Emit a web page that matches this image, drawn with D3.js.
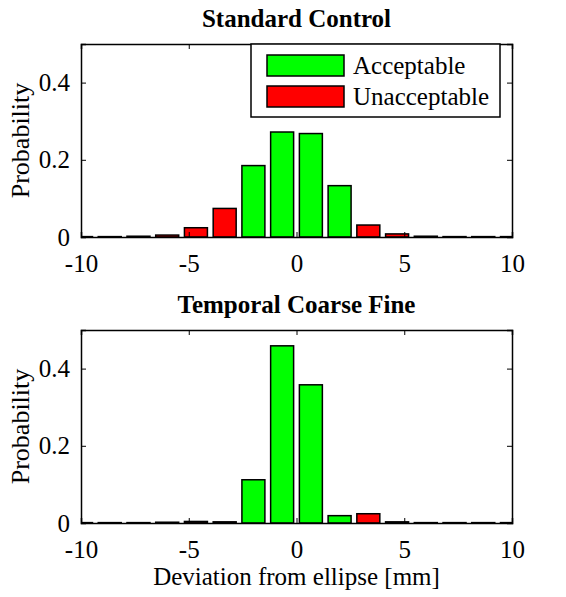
<!DOCTYPE html>
<html>
<head>
	<meta charset="UTF-8">
	<title>deviation histograms</title>
	<style>
html, body {
	margin:0;padding:0;background:#fff;
}
text {
	font-family: "Liberation Serif", "Times New Roman", serif;
	fill: #000;
	font-size: 25px;
}
.title {font-weight: bold;}
.ylabel {font-size: 26px;}
	</style>
	<script src="https://cdnjs.cloudflare.com/ajax/libs/d3/7.8.5/d3.min.js"></script>
</head>
<body>
<script>
// bin centres (mm), 16 bins from -10 to 10
const binCenters = [-10, -8.667, -7.333, -6, -4.667, -3.333, -2, -0.667, 0.667, 2, 3.333, 4.667, 6, 7.333, 8.667, 10];
const acceptable = [false, false, false, false, false, false, true, true, true, true, false, false, false, false, false, false];
const standardControl = [0.001, 0.001, 0.002, 0.005, 0.024, 0.074, 0.185, 0.272, 0.268, 0.133, 0.031, 0.008, 0.002, 0.001, 0.001, 0.001];
const temporalCoarseFine = [0.001, 0.001, 0.001, 0.002, 0.004, 0.003, 0.112, 0.459, 0.358, 0.019, 0.024, 0.003, 0.001, 0.001, 0.001, 0.001];
const xTicks = [-10, -5, 0, 5, 10];
const yTicks = [0, 0.2, 0.4];
const legendLabels = ['Acceptable', 'Unacceptable'];
const colors = ['#00ff00', '#ff0000'];

const W = 566, H = 597;
const svg = d3.select('body').append('svg').attr('width', W).attr('height', H);

const x = d3.scaleLinear().domain([-10, 10]).range([81, 512]);
const binW = 0.8 * 4 / 3;

// plain hyphen minus like matlab, not the unicode minus
const fmtX = d => String(d);
const fmtY = d => d === 0 ? '0' : d3.format('.1f')(d);

function panel(top, title, values, withLegend, withXLabel) {
	const y = d3.scaleLinear().domain([0, 0.5]).range([top + 193, top]);
	const g = svg.append('g');
	const id = 'clip' + top;
	g.append('clipPath').attr('id', id)
		.append('rect').attr('x', x(-10)).attr('y', top - 1).attr('width', x(10) - x(-10)).attr('height', 195);

	g.append('text').attr('class', 'title')
		.attr('x', (x(-10) + x(10)) / 2).attr('y', top - 17)
		.attr('text-anchor', 'middle').text(title);

	g.append('g').attr('clip-path', `url(#${id})`)
		.selectAll('rect').data(values).enter().append('rect')
		.attr('x', (d, i) => x(binCenters[i] - binW / 2))
		.attr('width', (d, i) => x(binCenters[i] + binW / 2) - x(binCenters[i] - binW / 2))
		.attr('y', d => y(d))
		.attr('height', d => y(0) - y(d))
		.attr('fill', (d, i) => acceptable[i] ? colors[0] : colors[1])
		.attr('stroke', '#000').attr('stroke-width', 1.5);

	// axes with ticks on all four sides
	const bottom = g.append('g').attr('transform', `translate(0,${y(0)})`)
		.call(d3.axisBottom(x).tickValues(xTicks).tickSize(-5).tickFormat(fmtX));
	const topAx = g.append('g').attr('transform', `translate(0,${top})`)
		.call(d3.axisTop(x).tickValues(xTicks).tickSize(-5).tickFormat(''));
	const left = g.append('g').attr('transform', `translate(${x(-10)},0)`)
		.call(d3.axisLeft(y).tickValues(yTicks).tickSize(-5).tickFormat(fmtY));
	const right = g.append('g').attr('transform', `translate(${x(10)},0)`)
		.call(d3.axisRight(y).tickValues(yTicks).tickSize(-5).tickFormat(''));
	[bottom, topAx, left, right].forEach(a => {
		a.attr('font-family', null).attr('font-size', null);
		a.select('.domain').attr('stroke', '#000').attr('stroke-width', 1.5);
		a.selectAll('.tick line').attr('stroke', '#000');
	});
	bottom.selectAll('.tick text').attr('y', 35).attr('dy', null);
	left.selectAll('.tick text').attr('x', -11).attr('y', 8).attr('dy', null);

	g.append('text').attr('class', 'ylabel')
		.attr('transform', `translate(29,${(y(0) + top) / 2}) rotate(-90)`)
		.attr('text-anchor', 'middle').text('Probability');

	if (withXLabel) {
		g.append('text')
			.attr('x', (x(-10) + x(10)) / 2).attr('y', top + 255)
			.attr('text-anchor', 'middle').text('Deviation from ellipse [mm]');
	}

	if (withLegend) {
		const lg = g.append('g');
		lg.append('rect').attr('x', 251).attr('y', top).attr('width', 249).attr('height', 73)
			.attr('fill', '#fff').attr('stroke', '#000').attr('stroke-width', 1.5);
		const items = lg.selectAll('g.item').data(legendLabels).enter().append('g')
			.attr('transform', (d, i) => `translate(0,${top + 11 + i * 31})`);
		items.append('rect').attr('x', 267).attr('y', 0).attr('width', 77).attr('height', 21)
			.attr('fill', (d, i) => colors[i]).attr('stroke', '#000').attr('stroke-width', 1.5);
		items.append('text').attr('x', 353).attr('y', 19).text(d => d);
	}
}

panel(44, 'Standard Control', standardControl, true, false);
panel(330, 'Temporal Coarse Fine', temporalCoarseFine, false, true);
</script>
</body>
</html>
